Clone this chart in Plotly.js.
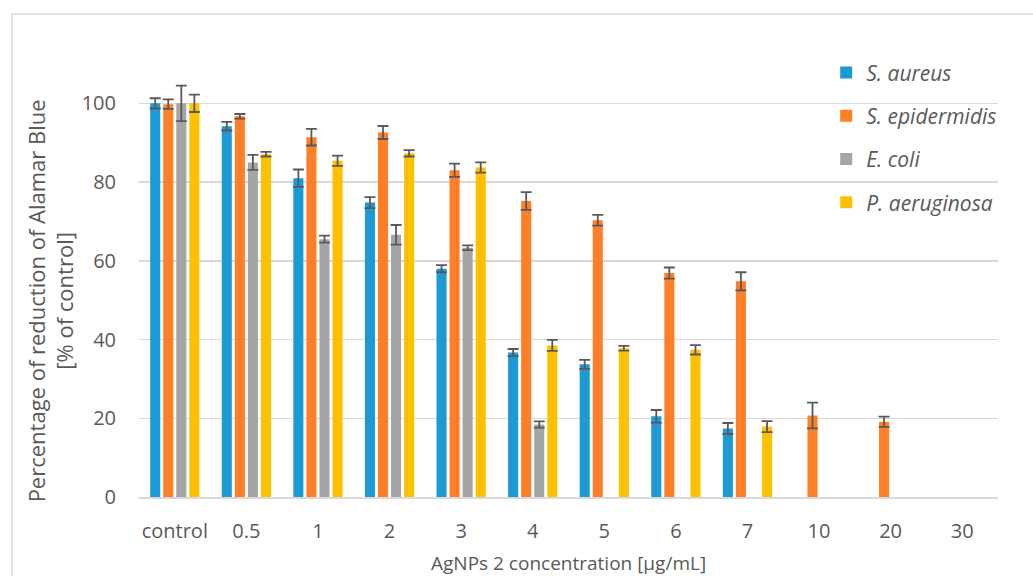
<!DOCTYPE html>
<html>
<head>
<meta charset="utf-8">
<script src="https://cdn.plot.ly/plotly-3.0.1.min.js"></script>
<style>html,body{margin:0;padding:0;background:#fff;}#chart{width:1033px;height:576px;}</style>
</head>
<body>
<div id="chart"></div>
<script>
const categories = ["control", "0.5", "1", "2", "3", "4", "5", "6", "7", "10", "20", "30"];
const seriesNames = ["S. aureus", "S. epidermidis", "E. coli", "P. aeruginosa"];
const aureus      = [100, 94.2, 81.0, 74.8, 58.0, 36.7, 33.7, 20.5, 17.4, null, null, null];
const aureusErr   = [1.3, 1.1, 2.2, 1.4, 0.9, 0.9, 1.15, 1.6, 1.4, null, null, null];
const epidermidis = [99.8, 96.7, 91.4, 92.6, 83.0, 75.2, 70.3, 56.9, 54.8, 20.7, 19.1, null];
const epidermErr  = [1.2, 0.6, 2.1, 1.65, 1.7, 2.25, 1.35, 1.4, 2.3, 3.25, 1.3, null];
const ecoli       = [100, 85.0, 65.5, 66.6, 63.3, 18.4, null, null, null, null, null, null];
const ecoliErr    = [4.5, 1.9, 0.9, 2.5, 0.6, 0.8, null, null, null, null, null, null];
const aeruginosa  = [100, 87.1, 85.4, 87.3, 83.7, 38.5, 37.8, 37.4, 17.9, null, null, null];
const aerugErr    = [2.2, 0.6, 1.3, 0.8, 1.3, 1.4, 0.6, 1.2, 1.4, null, null, null];
const yTicks = [0, 20, 40, 60, 80, 100];

const colors = ["#1B9AD6", "#FF7F27", "#A5A5A5", "#FFC000"];
const values = [aureus, epidermidis, ecoli, aeruginosa];
const errs = [aureusErr, epidermErr, ecoliErr, aerugErr];

const traces = values.map((v, i) => ({
  type: "bar",
  x: categories,
  y: v,
  name: "<i>" + seriesNames[i] + "</i>",
  legendgroup: "g" + i,
  marker: {color: colors[i]},
  error_y: {type: "data", array: errs[i], visible: true, color: "#595959", thickness: 1.8, width: 5.5}
}));

const layout = {
  width: 1033, height: 576,
  margin: {l: 139, r: 35, t: 64, b: 79},
  paper_bgcolor: "#fff", plot_bgcolor: "#fff",
  font: {family: "Open Sans, DejaVu Sans, sans-serif", color: "#595959", size: 20},
  barmode: "group",
  bargap: 0.27,
  bargroupgap: 0.23,
  showlegend: true,
  legend: {
    x: 0.8, y: 1.027, xanchor: "left", yanchor: "top",
    bgcolor: "rgba(0,0,0,0)",
    font: {size: 21, color: "#595959"},
    traceorder: "grouped",
    tracegroupgap: 13
  },
  xaxis: {
    type: "category",
    showline: true, linecolor: "#D9D9D9", linewidth: 1.5,
    showgrid: false, ticks: "",
    ticklabelstandoff: 15,
    tickfont: {size: 20, color: "#595959"}
  },
  yaxis: {
    range: [0, 110],
    tickvals: yTicks,
    showgrid: true, gridcolor: "#D9D9D9", gridwidth: 1.5,
    zeroline: false, showline: false, ticks: "",
    ticklabelstandoff: 22,
    tickfont: {size: 20, color: "#595959"}
  },
  annotations: [
    {text: "AgNPs 2 concentration [µg/mL]", xref: "paper", yref: "paper",
     x: 0.5, y: -0.152, xanchor: "center", yanchor: "middle", showarrow: false,
     font: {size: 19, color: "#595959"}},
    {text: "Percentage of reduction of Alamar Blue<br>[% of control]", xref: "paper", yref: "paper",
     x: -0.103, y: 0.453, xanchor: "center", yanchor: "middle", showarrow: false, textangle: -90,
     font: {size: 22, color: "#595959"}}
  ],
  shapes: [
    {type: "rect", xref: "paper", yref: "paper", x0: -0.1478, x1: 1.2, y0: -0.4, y1: 1.1155,
     line: {color: "#D9D9D9", width: 1.5}, fillcolor: "rgba(0,0,0,0)", layer: "below"}
  ]
};

Plotly.newPlot("chart", traces, layout, {displayModeBar: false, staticPlot: true});
</script>
</body>
</html>
